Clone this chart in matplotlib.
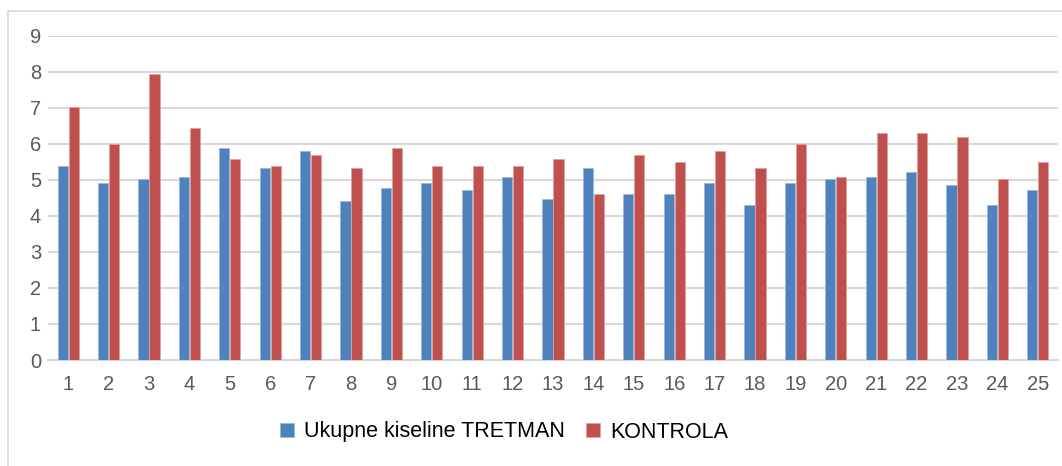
import numpy as np
import matplotlib
matplotlib.use("Agg")
import matplotlib.pyplot as plt
from matplotlib.patches import Rectangle

plt.rcParams["font.family"] = ["Liberation Sans", "DejaVu Sans"]

categories = [str(i) for i in range(1, 26)]
tretman = [5.39, 4.90, 5.02, 5.09, 5.87, 5.34, 5.81, 4.42, 4.78, 4.90,
           4.73, 5.09, 4.48, 5.33, 4.61, 4.61, 4.90, 4.30, 4.90, 5.02,
           5.09, 5.21, 4.85, 4.30, 4.73]
kontrola = [7.03, 5.99, 7.94, 6.43, 5.57, 5.39, 5.70, 5.34, 5.87, 5.39,
            5.39, 5.39, 5.57, 4.61, 5.70, 5.50, 5.81, 5.33, 5.99, 5.09,
            6.30, 6.30, 6.18, 5.02, 5.50]
labels = ["Ukupne kiseline TRETMAN", "KONTROLA"]

W, H = 1062, 466
fig = plt.figure(figsize=(W / 100, H / 100), dpi=100)
# chart border (cropped at right and bottom in the reference)
fig.patches.append(Rectangle((8 / W, -0.05), 1.1, (H - 11) / H + 0.05,
                             transform=fig.transFigure, fill=False,
                             edgecolor="#d9d9d9", linewidth=1.2))

ax = fig.add_axes([48 / W, (H - 360) / H, (1058 - 48) / W, (360 - 35.7) / H])
x = np.arange(len(categories))
bw = 0.25
ax.bar(x - bw / 2 - 0.01, tretman, bw, color="#4f81bd", edgecolor="#9bb7dd",
       linewidth=0.6, label=labels[0], zorder=3)
ax.bar(x + bw / 2 + 0.01, kontrola, bw, color="#c0504d", edgecolor="#e0a09e",
       linewidth=0.6, label=labels[1], zorder=3)

ax.set_xlim(-0.5, len(categories) - 0.5)
ax.set_ylim(0, 9)
ax.set_yticks(range(0, 10))
ax.set_xticks(x)
ax.set_xticklabels(categories)
ax.grid(axis="y", color="#d9d9d9", linewidth=1.5, zorder=0)
for s in ["top", "right", "left"]:
    ax.spines[s].set_visible(False)
ax.spines["bottom"].set_color("#d9d9d9")
ax.spines["bottom"].set_linewidth(1.5)
ax.tick_params(axis="both", length=0, labelsize=14.5, labelcolor="#595959")
ax.tick_params(axis="x", pad=11)
ax.tick_params(axis="y", pad=5)

fig.legend(loc="center", bbox_to_anchor=(504 / W, (H - 432) / H), ncol=2,
           frameon=False, fontsize=15.5, handlelength=0.65, handleheight=0.65,
           handletextpad=0.45, columnspacing=1.0)

fig.savefig("out.png", dpi=100)
